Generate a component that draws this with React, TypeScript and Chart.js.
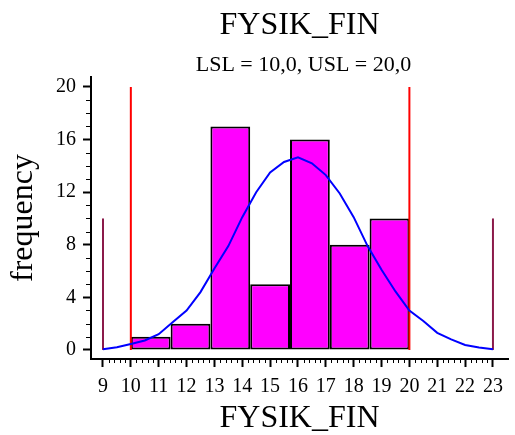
import React, { useEffect, useRef } from "react";
import { Chart, registerables } from "chart.js";

Chart.register(...registerables);

const titleText = "FYSIK_FIN";
const subtitleText = "LSL = 10,0, USL = 20,0";
const xTitle = "FYSIK_FIN";
const yTitle = "frequency";

const binEdges = [10, 11.4286, 12.8571, 14.2857, 15.7143, 17.1429, 18.5714, 20];
const counts = [1, 2, 17, 5, 16, 8, 10];

const curveX = [9, 9.5, 10, 10.5, 11, 11.5, 12, 12.5, 13, 13.5, 14, 14.5, 15, 15.5, 16, 16.5, 17, 17.5, 18, 18.5, 19, 19.5, 20, 20.5, 21, 21.5, 22, 22.5, 23];
const curveY = [0.05, 0.2, 0.45, 0.72, 1.2, 2.1, 3.0, 4.4, 6.2, 7.9, 10.1, 12.0, 13.5, 14.3, 14.65, 14.2, 13.3, 11.9, 10.1, 7.9, 6.1, 4.45, 3.0, 2.2, 1.3, 0.8, 0.38, 0.18, 0.05];

const specLimits = [10, 20];
const specHeight = 20;
const outerMarks = [9, 23];
const outerHeight = 10;

const xTicks = [9, 10, 11, 12, 13, 14, 15, 16, 17, 18, 19, 20, 21, 22, 23];
const yTicks = [0, 4, 8, 12, 16, 20];

const FONT = "'Liberation Serif', 'Times New Roman', serif";

const decor = {
  id: "decor",
  afterDraw(chart: any) {
    const { ctx, chartArea } = chart;
    const xs = chart.scales.x;
    const ys = chart.scales.y;
    ctx.save();
    ctx.strokeStyle = "#000";
    ctx.lineWidth = 1;
    // minor x ticks
    for (let i = 0; i <= (xTicks[xTicks.length - 1] - xTicks[0]) * 5; i++) {
      if (i % 5 === 0) continue;
      const v = xTicks[0] + i / 5;
      const px = Math.round(xs.getPixelForValue(v)) + 0.5;
      ctx.beginPath();
      ctx.moveTo(px, chartArea.bottom + 1);
      ctx.lineTo(px, chartArea.bottom + 4);
      ctx.stroke();
    }
    // minor y ticks
    for (let v = yTicks[0]; v <= yTicks[yTicks.length - 1]; v++) {
      if (yTicks.includes(v)) continue;
      const py = Math.round(ys.getPixelForValue(v)) + 0.5;
      ctx.beginPath();
      ctx.moveTo(chartArea.left - 1, py);
      ctx.lineTo(chartArea.left - 5, py);
      ctx.stroke();
    }
    // titles
    ctx.fillStyle = "#000";
    const cx = (chartArea.left + chartArea.right) / 2;
    ctx.textAlign = "center";
    ctx.textBaseline = "alphabetic";
    ctx.font = `32px ${FONT}`;
    ctx.fillText(titleText, cx, 34);
    ctx.font = `22px ${FONT}`;
    ctx.fillText(subtitleText, cx + 4, 71);
    ctx.font = `32px ${FONT}`;
    ctx.fillText(xTitle, cx, 427);
    ctx.save();
    ctx.translate(32, (chartArea.top + chartArea.bottom) / 2);
    ctx.rotate(-Math.PI / 2);
    ctx.fillText(yTitle, 0, 0);
    ctx.restore();
    ctx.restore();
  },
};

export default function App() {
  const ref = useRef<HTMLCanvasElement>(null);
  useEffect(() => {
    const centers = counts.map((_, i) => (binEdges[i] + binEdges[i + 1]) / 2);
    const binWidth = binEdges[1] - binEdges[0];
    const tickStep = xTicks[1] - xTicks[0];
    const lineDs = (xv: number, h: number, color: string) => ({
      type: "line" as const,
      data: [
        { x: xv, y: 0 },
        { x: xv, y: h },
      ],
      borderColor: color,
      borderWidth: 2,
      pointRadius: 0,
      fill: false,
      order: 1,
    });
    const chart = new Chart(ref.current!, {
      type: "bar",
      data: {
        datasets: [
          {
            type: "line",
            data: curveX.map((x, i) => ({ x, y: curveY[i] })),
            borderColor: "#0000FF",
            borderWidth: 2,
            pointRadius: 0,
            tension: 0,
            fill: false,
            order: 0,
          } as any,
          ...specLimits.map((v) => lineDs(v, specHeight, "#FF0000")),
          ...outerMarks.map((v) => lineDs(v, outerHeight, "#8B1A4A")),
          {
            type: "bar",
            data: centers.map((x, i) => ({ x, y: counts[i] })),
            backgroundColor: "#FF00FF",
            borderColor: "#000000",
            borderWidth: 2,
            borderSkipped: false,
            barPercentage: 1,
            categoryPercentage: binWidth / tickStep,
            order: 5,
          } as any,
        ],
      },
      options: {
        responsive: false,
        animation: false,
        devicePixelRatio: 1,
        layout: { padding: { top: 77, right: 7, bottom: 0, left: 0 } },
        plugins: { legend: { display: false }, tooltip: { enabled: false }, title: { display: false } },
        scales: {
          x: {
            type: "linear",
            min: 8.57,
            max: 23.54,
            offset: false,
            grid: { drawOnChartArea: false, drawTicks: true, tickLength: 8, tickWidth: 2, tickColor: "#000", offset: false },
            border: { display: true, color: "#000", width: 2 },
            ticks: { color: "#000", font: { family: FONT, size: 20 }, padding: 8, maxRotation: 0, autoSkip: false },
            afterBuildTicks: (s: any) => {
              s.ticks = xTicks.map((v) => ({ value: v }));
            },
            afterFit: (s: any) => {
              s.height = 76;
            },
          },
          y: {
            type: "linear",
            min: -0.69,
            max: 20.76,
            grid: { drawOnChartArea: false, drawTicks: true, tickLength: 8, tickWidth: 2, tickColor: "#000" },
            border: { display: true, color: "#000", width: 2 },
            ticks: { color: "#000", font: { family: FONT, size: 20 }, padding: 7 },
            afterBuildTicks: (s: any) => {
              s.ticks = yTicks.map((v) => ({ value: v }));
            },
            afterFit: (s: any) => {
              s.width = 91;
            },
          },
        },
      },
      plugins: [decor],
    } as any);
    return () => chart.destroy();
  }, []);
  return (
    <div style={{ position: "fixed", left: 0, top: 0, width: 515, height: 435, background: "#fff" }}>
      <canvas ref={ref} width={515} height={435} />
    </div>
  );
}
